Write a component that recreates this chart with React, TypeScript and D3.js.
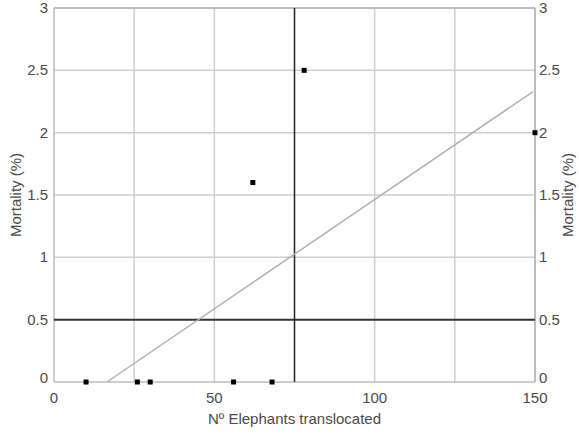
import React from 'react';
import * as d3 from 'd3';

// scatter points
const elephants = [10, 26, 30, 56, 68, 78, 62, 150];
const mortality = [0, 0, 0, 0, 0, 2.5, 1.6, 2];

// fitted line ends
const fitX = [16.5, 149.4];
const fitY = [0, 2.33];

const xTicks = [0, 50, 100, 150];
const xGrid = [25, 50, 100, 125];
const yTicks = [0, 0.5, 1, 1.5, 2, 2.5, 3];

const W = 579;
const H = 434;
const left = 54;
const right = 535;
const top = 8;
const bottom = 382;

const App = () => {
  const x = d3.scaleLinear().domain([0, 150]).range([left, right]);
  const y = d3.scaleLinear().domain([0, 3]).range([bottom, top]);

  const fitLine = d3.line<number>()
    .x((d, i) => x(fitX[i]))
    .y((d, i) => y(fitY[i]));

  const font = 'Liberation Sans, Arial, sans-serif';
  const textColor = '#4a4a4a';

  return (
    <svg width={W} height={H} style={{ position: 'absolute', left: 0, top: 0, background: '#fff' }} fontFamily={font}>
      {/* grid */}
      {xGrid.map((v) => (
        <line key={'xg' + v} x1={x(v)} x2={x(v)} y1={top} y2={bottom} stroke="#cfcfcf" strokeWidth={1.5} />
      ))}
      {yTicks.filter((v) => v !== 0.5 && v !== 0).map((v) => (
        <line key={'yg' + v} x1={left} x2={right} y1={y(v)} y2={y(v)} stroke="#cfcfcf" strokeWidth={1.5} />
      ))}
      {/* frame */}
      <line x1={left} x2={right} y1={top} y2={top} stroke="#bdbdbd" strokeWidth={2} />
      <line x1={left} x2={left} y1={top} y2={bottom} stroke="#bdbdbd" strokeWidth={1.5} />
      <line x1={right} x2={right} y1={top} y2={bottom} stroke="#a8a8a8" strokeWidth={1.5} />
      <line x1={left} x2={right} y1={bottom} y2={bottom} stroke="#bdbdbd" strokeWidth={1.5} />

      {/* reference lines */}
      <line x1={left} x2={right} y1={y(0.5)} y2={y(0.5)} stroke="#333" strokeWidth={2} />
      <line x1={x(75)} x2={x(75)} y1={top} y2={bottom} stroke="#222" strokeWidth={1.5} />

      {/* fit */}
      <path d={fitLine(fitX) || ''} fill="none" stroke="#b0b0b0" strokeWidth={1.5} />

      {/* points */}
      {elephants.map((v, i) => (
        <rect key={'p' + i} x={x(v) - 2.5} y={y(mortality[i]) - 2.5} width={5} height={5} fill="#000" />
      ))}

      {/* y tick labels */}
      {yTicks.map((v) => (
        <g key={'yt' + v} fontSize={15} fill={textColor}>
          <text x={left - 6} y={y(v) + (v === 0 ? 1 : 5)} textAnchor="end">{String(v)}</text>
          <text x={right + 4} y={y(v) + (v === 0 ? 1 : 5)} textAnchor="start">{String(v)}</text>
        </g>
      ))}
      {/* x tick labels */}
      {xTicks.map((v) => (
        <text key={'xt' + v} x={x(v)} y={bottom + 21} textAnchor="middle" fontSize={15} fill={textColor}>{String(v)}</text>
      ))}

      {/* titles */}
      <text x={(left + right) / 2} y={H - 10} textAnchor="middle" fontSize={15} fill={textColor}>Nº Elephants translocated</text>
      <text transform={`translate(21,${(top + bottom) / 2}) rotate(-90)`} textAnchor="middle" fontSize={15} fill={textColor}>Mortality (%)</text>
      <text transform={`translate(573,${(top + bottom) / 2}) rotate(-90)`} textAnchor="middle" fontSize={15} fill={textColor}>Mortality (%)</text>
    </svg>
  );
};

export default App;
